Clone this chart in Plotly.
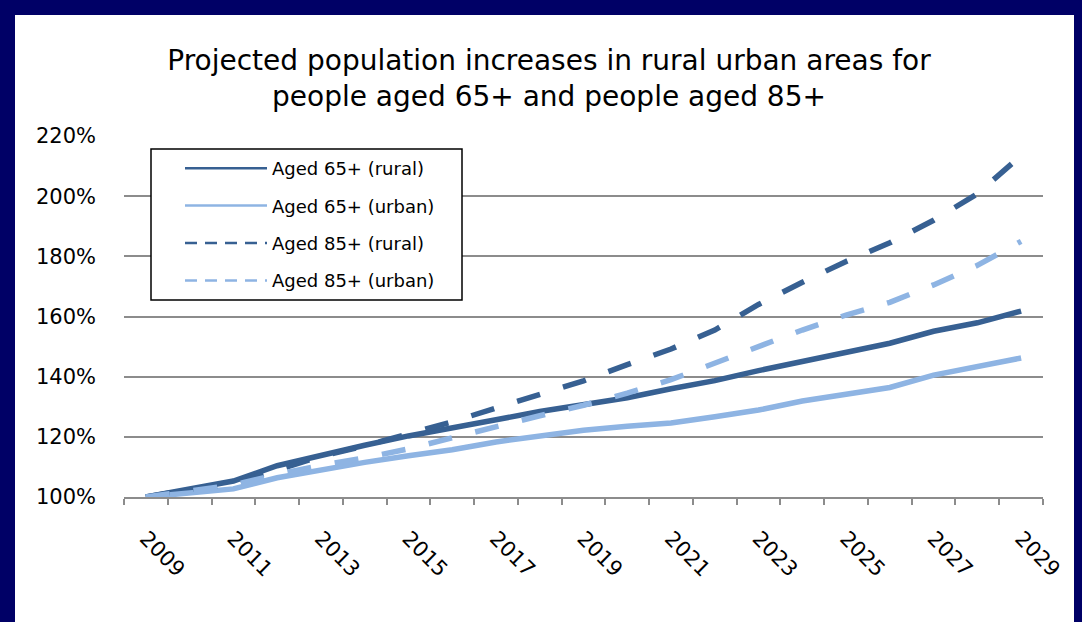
import plotly.graph_objects as go

years = list(range(2009, 2030))
rural_65 = [100, 102.5, 105.3, 110.4, 114.0, 117.2, 120.3, 123.2, 125.7, 128.4, 130.7,
            133.0, 136.0, 138.7, 142.0, 145.0, 148.0, 151.1, 155.1, 157.9, 161.8]
urban_65 = [100, 101.4, 102.7, 106.4, 109.1, 111.5, 113.7, 115.7, 118.3, 120.1, 122.2,
            123.5, 124.6, 126.7, 128.9, 131.9, 134.2, 136.4, 140.5, 143.2, 146.2]
rural_85 = [100, 102.5, 104.5, 109.0, 113.5, 117.0, 121.0, 125.0, 129.6, 134.3, 138.6,
            144.0, 149.2, 155.5, 164.0, 171.4, 178.3, 184.5, 192.0, 200.8, 213.5]
urban_85 = [100, 102.0, 104.0, 107.5, 110.5, 113.0, 116.0, 119.7, 123.5, 127.0, 130.5,
            134.5, 139.0, 144.5, 150.0, 155.5, 160.5, 164.7, 170.5, 177.0, 185.0]
names = ["Aged 65+ (rural)", "Aged 65+ (urban)", "Aged 85+ (rural)", "Aged 85+ (urban)"]
tick_years = list(range(2009, 2030, 2))

DARK = "#376092"
LIGHT = "#8EB4E3"
NAVY = "#000066"
GRID = "#8C8C8C"
FONT = "DejaVu Sans"

series = [rural_65, urban_65, rural_85, urban_85]
colors = [DARK, LIGHT, DARK, LIGHT]
dashes = ["solid", "solid", "24px,24px", "24px,24px"]
legend_dashes = ["solid", "solid", "12px,8px", "12px,8px"]

# plot area in pixels
L, R, T, B = 124, 1043, 136, 497
PW, PH = R - L, B - T


def px(x):
    return (x - L) / PW


def py(y):
    return (B - y) / PH


fig = go.Figure()
for vals, name, col, dsh in zip(series, names, colors, dashes):
    fig.add_trace(go.Scatter(x=years, y=vals, mode="lines", name=name, showlegend=False,
                             line=dict(color=col, width=5.5, dash=dsh)))
for i, (name, col, dsh) in enumerate(zip(names, colors, legend_dashes)):
    fig.add_trace(go.Scatter(x=[None], y=[None], mode="lines", name=name,
                             legendgroup="g%d" % i,
                             line=dict(color=col, width=2.5, dash=dsh)))

fig.update_layout(
    width=1082, height=622,
    margin=dict(l=L, r=1082 - R, t=T, b=622 - B),
    paper_bgcolor=NAVY, plot_bgcolor="white",
    font=dict(family=FONT, color="black"),
    title=dict(text="Projected population increases in rural urban areas for<br>people aged 65+ and people aged 85+",
               x=549 / 1082, xref="container", xanchor="center",
               y=1 - 70 / 622, yref="container", yanchor="middle",
               font=dict(family=FONT, size=28, color="black")),
    shapes=[
        dict(type="rect", xref="paper", yref="paper",
             x0=px(15), x1=px(1074), y0=py(640), y1=py(15),
             fillcolor="white", line=dict(width=0), layer="below"),
        dict(type="rect", xref="paper", yref="paper",
             x0=px(151), x1=px(462), y0=py(300), y1=py(149),
             fillcolor="white", line=dict(width=1.5, color="black"), layer="above"),
    ],
    legend=dict(x=px(180), y=py(150), xanchor="left", yanchor="top",
                bgcolor="rgba(0,0,0,0)", borderwidth=0,
                font=dict(family=FONT, size=18, color="black"),
                itemwidth=82, traceorder="grouped", tracegroupgap=11),
    xaxis=dict(range=[2008.5, 2029.5], tickmode="array", tickvals=tick_years,
               ticktext=[str(y) for y in tick_years], tickangle=45,
               ticks="", showgrid=False, zeroline=False,
               showline=True, linecolor=GRID, linewidth=2,
               ticklabelstandoff=19,
               tickfont=dict(family=FONT, size=21, color="black"),
               minor=dict(tick0=2008.5, dtick=1, ticks="outside", ticklen=6,
                          tickcolor=GRID, tickwidth=2, showgrid=False)),
    yaxis=dict(range=[100, 220], dtick=20, ticksuffix="%", showgrid=True,
               gridcolor=GRID, gridwidth=2, zeroline=False, showline=False,
               ticks="", ticklabelstandoff=27,
               tickfont=dict(family=FONT, size=21, color="black")),
)

fig.write_html("out.html", config={"displayModeBar": False},
               post_script="document.body.style.margin='0';document.body.style.overflow='hidden';")
